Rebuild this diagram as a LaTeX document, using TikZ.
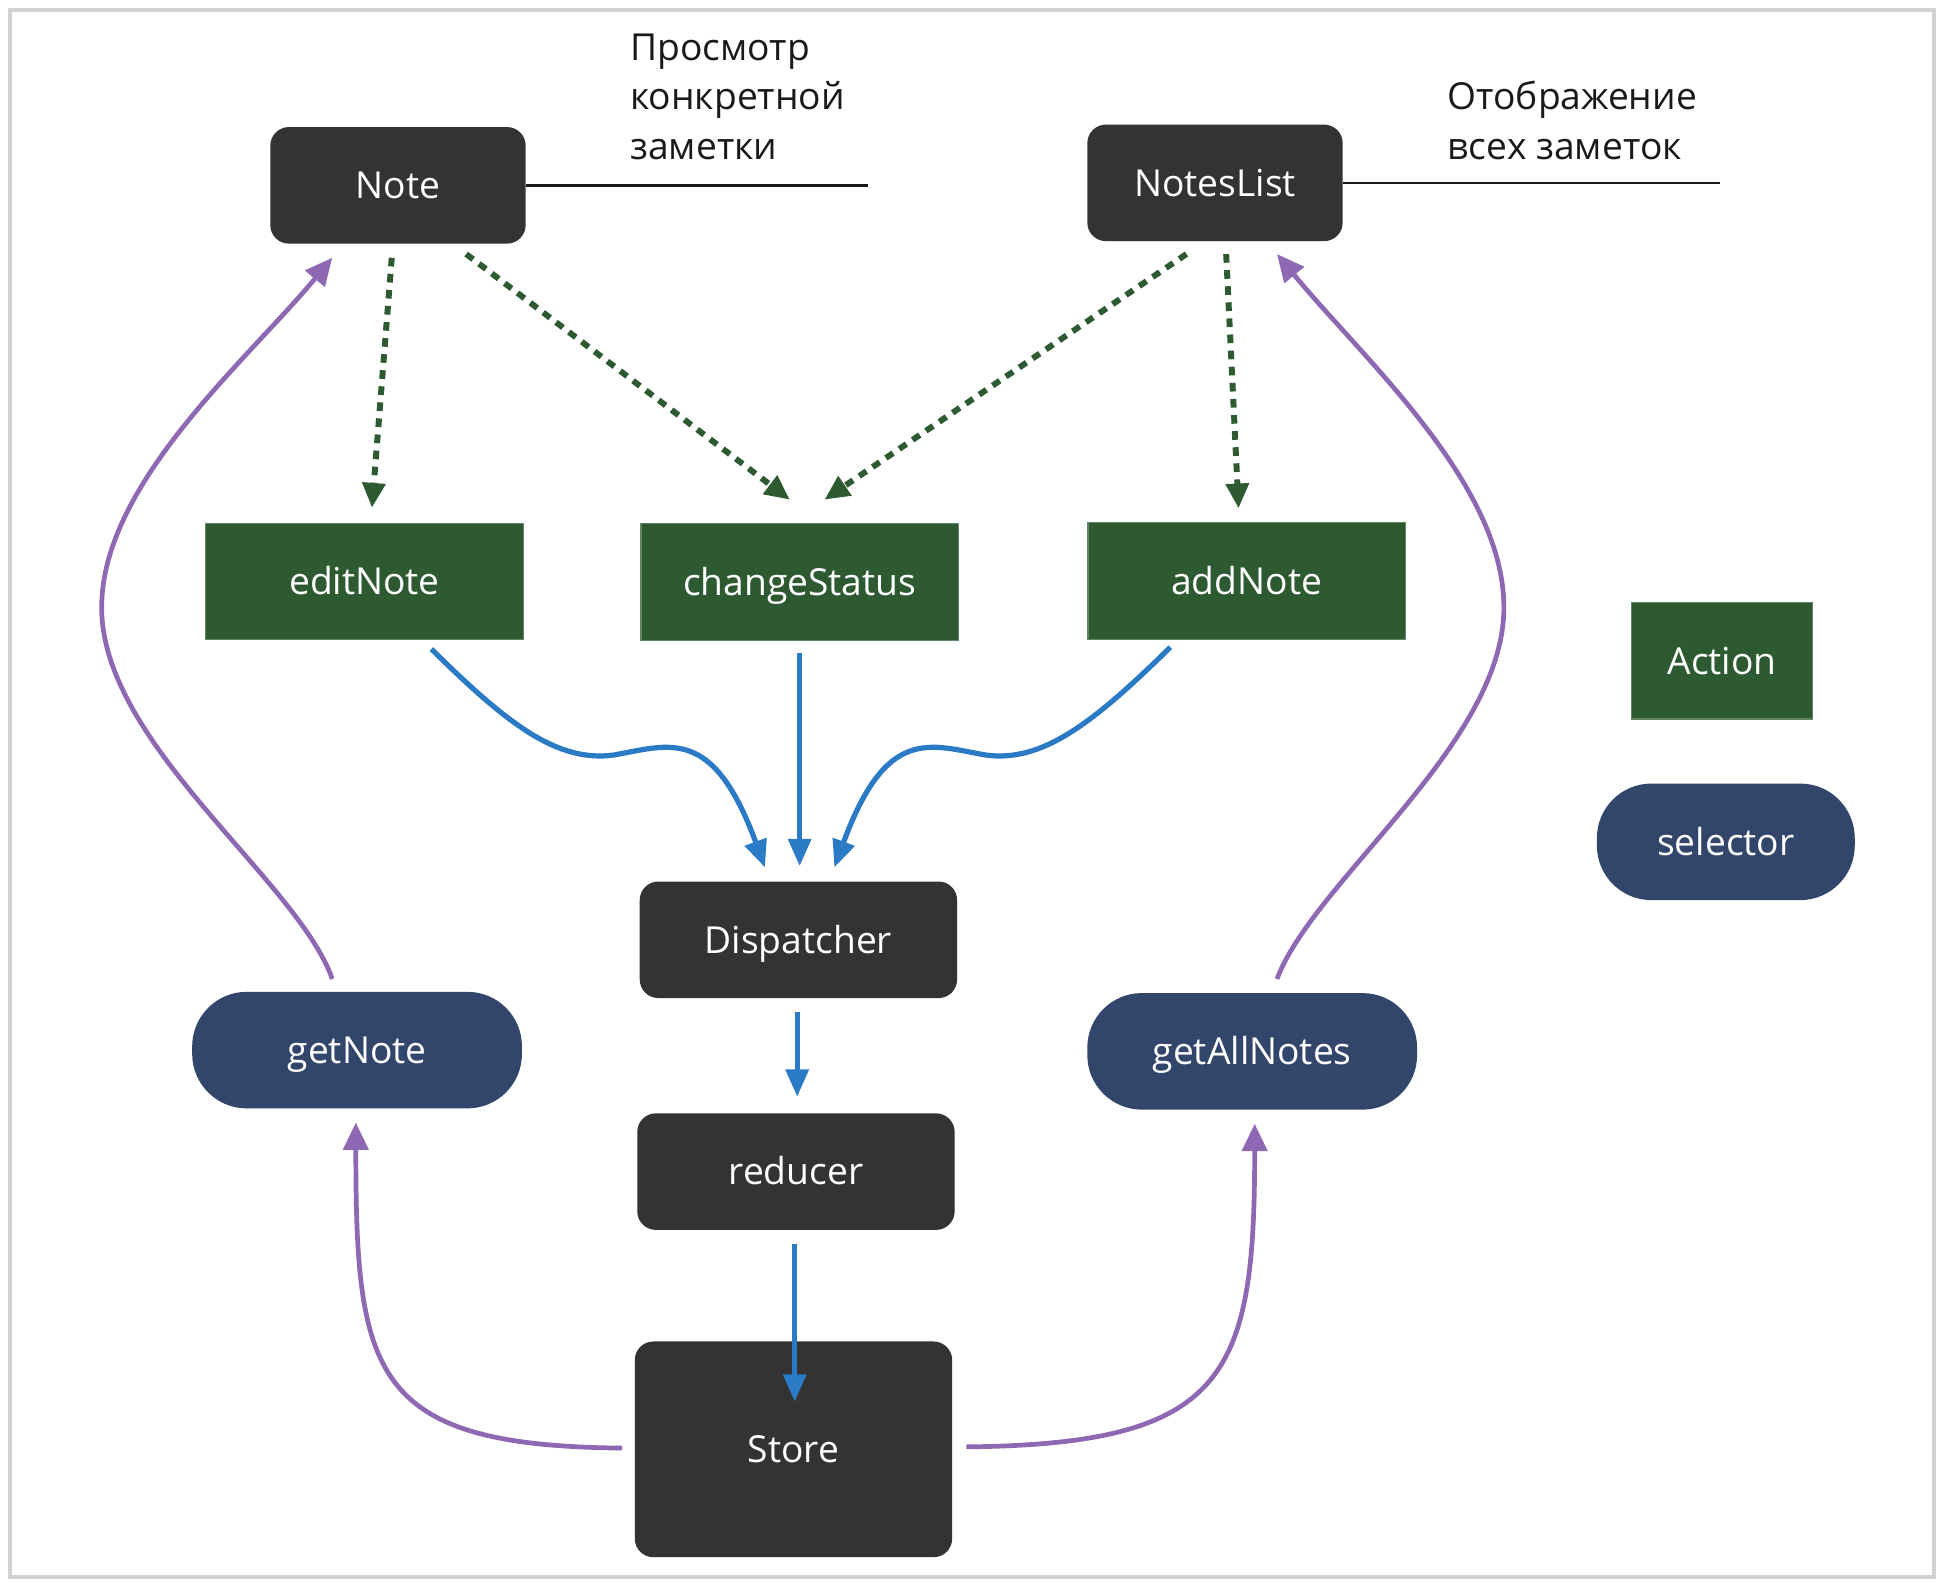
\documentclass[tikz,border=0pt]{standalone}
\usepackage{fontspec}
\setmainfont{Open Sans}
\usetikzlibrary{arrows.meta}
\definecolor{darkbox}{RGB}{51,51,51}
\definecolor{actgreen}{RGB}{46,90,50}
\definecolor{selnavy}{RGB}{50,69,106}
\definecolor{flowblue}{RGB}{42,122,197}
\definecolor{selpurple}{RGB}{142,104,179}
\definecolor{cardgray}{RGB}{210,210,210}
\begin{document}
\begin{tikzpicture}[x=0.5pt,y=-0.5pt,
  every node/.style={font=\fontsize{15}{20}\selectfont, inner sep=0pt},
  boxtext/.style={text height=10.7pt, text depth=0pt},
  darkbox/.style={boxtext, fill=darkbox, text=white, rounded corners=7.5pt, minimum width=128pt, minimum height=47pt},
  actbox/.style={boxtext, fill=actgreen, draw=actgreen!75!white, line width=0.5pt, text=white, minimum width=128pt, minimum height=47pt},
  selbox/.style={boxtext, fill=selnavy, text=white, rounded corners=22pt, minimum width=133pt, minimum height=47pt},
  notetext/.style={text=black!90, align=left, anchor=west},
  dasharrow/.style={draw=actgreen, line width=2.4pt, dash pattern=on 3.5pt off 3pt, -{Triangle[length=10pt,width=9pt]}},
  bluearrow/.style={draw=flowblue, line width=2.1pt, -{Triangle[length=11pt,width=9pt]}},
  purparrow/.style={draw=selpurple, line width=1.9pt, -{Triangle[length=11pt,width=10pt]}},
  leader/.style={draw=black!90, line width=1.1pt}
]
\useasboundingbox (0,0) rectangle (1568,1279.3);
\draw[cardgray, line width=1.4pt, fill=white] (8,8) rectangle (1560,1272);

% nodes
\node[darkbox, minimum width=103pt] (note) at (321,149.5) {Note};
\node[darkbox, minimum width=103pt] (nl) at (980,147.5) {NotesList};
\node[actbox] (edit) at (294,469) {editNote};
\node[actbox] (cs) at (645,469.5) {changeStatus};
\node[actbox] (add) at (1005.5,468.5) {addNote};
\node[actbox, minimum width=73pt] (action) at (1389,533) {Action};
\node[selbox, minimum width=104pt] (selector) at (1392,679) {selector};
\node[darkbox] (disp) at (644,758) {Dispatcher};
\node[selbox] (gn) at (288,847) {getNote};
\node[selbox] (gan) at (1010,848) {getAllNotes};
\node[darkbox] (red) at (642,945) {reducer};
\node[darkbox, minimum height=87pt] (store) at (640,1169) {Store};

% annotations
\node[notetext] (t1) at (508,78) {Просмотр\\конкретной\\заметки};
\node[notetext] (t2) at (1167,97) {Отображение\\всех заметок};
\coordinate (l1) at (700,149.5);
\coordinate (l2) at (1387,147.5);
\draw[leader] (note.east) -- (l1);
\draw[leader] (nl.east) -- (l2);

% dashed green
\draw[dasharrow] ([shift={(-5,11)}]note.south) -- ([shift={(6,-12)}]edit.north);
\draw[dasharrow] ([shift={(55,8)}]note.south) -- ([shift={(-8,-19)}]cs.north);
\draw[dasharrow] ([shift={(-23,10)}]nl.south) -- ([shift={(20,-19)}]cs.north);
\draw[dasharrow] ([shift={(9,10)}]nl.south) -- ([shift={(-6.5,-11)}]add.north);

% blue
\draw[bluearrow] ([shift={(54,7)}]edit.south) .. controls (410,585) and (450,615) .. (495,609)
   .. controls (540,601) and (575,585) .. ([shift={(-27,-11)}]disp.north);
\draw[bluearrow] ([shift={(0,10)}]cs.south) -- ([shift={(1,-12)}]disp.north);
\draw[bluearrow] ([shift={(-61.5,6)}]add.south) .. controls (880,585) and (840,615) .. (795,609)
   .. controls (750,601) and (715,585) .. ([shift={(29,-11)}]disp.north);
\draw[bluearrow] ([shift={(-1,11)}]disp.south) -- ([shift={(1,-13)}]red.north);
\draw[bluearrow] ([shift={(-1,11)}]red.south) -- ([shift={(1,49)}]store.north);

% purple
\draw[purparrow] ([shift={(-20,-10)}]gn.north) .. controls (240,710) and (82,600) .. (82,490)
   .. controls (82,390) and (200,290) .. ([shift={(-53,11)}]note.south);
\draw[purparrow] ([shift={(20,-11)}]gan.north) .. controls (1060,710) and (1213,600) .. (1213,490)
   .. controls (1213,390) and (1100,290) .. ([shift={(50,10)}]nl.south);
\draw[purparrow] ([shift={(-10,-1)}]store.west) .. controls (300,1166) and (287,1110) .. ([shift={(-1,11)}]gn.south);
\draw[purparrow] ([shift={(11,-2)}]store.east) .. controls (990,1165) and (1012,1110) .. ([shift={(2,11)}]gan.south);
\end{tikzpicture}
\end{document}
